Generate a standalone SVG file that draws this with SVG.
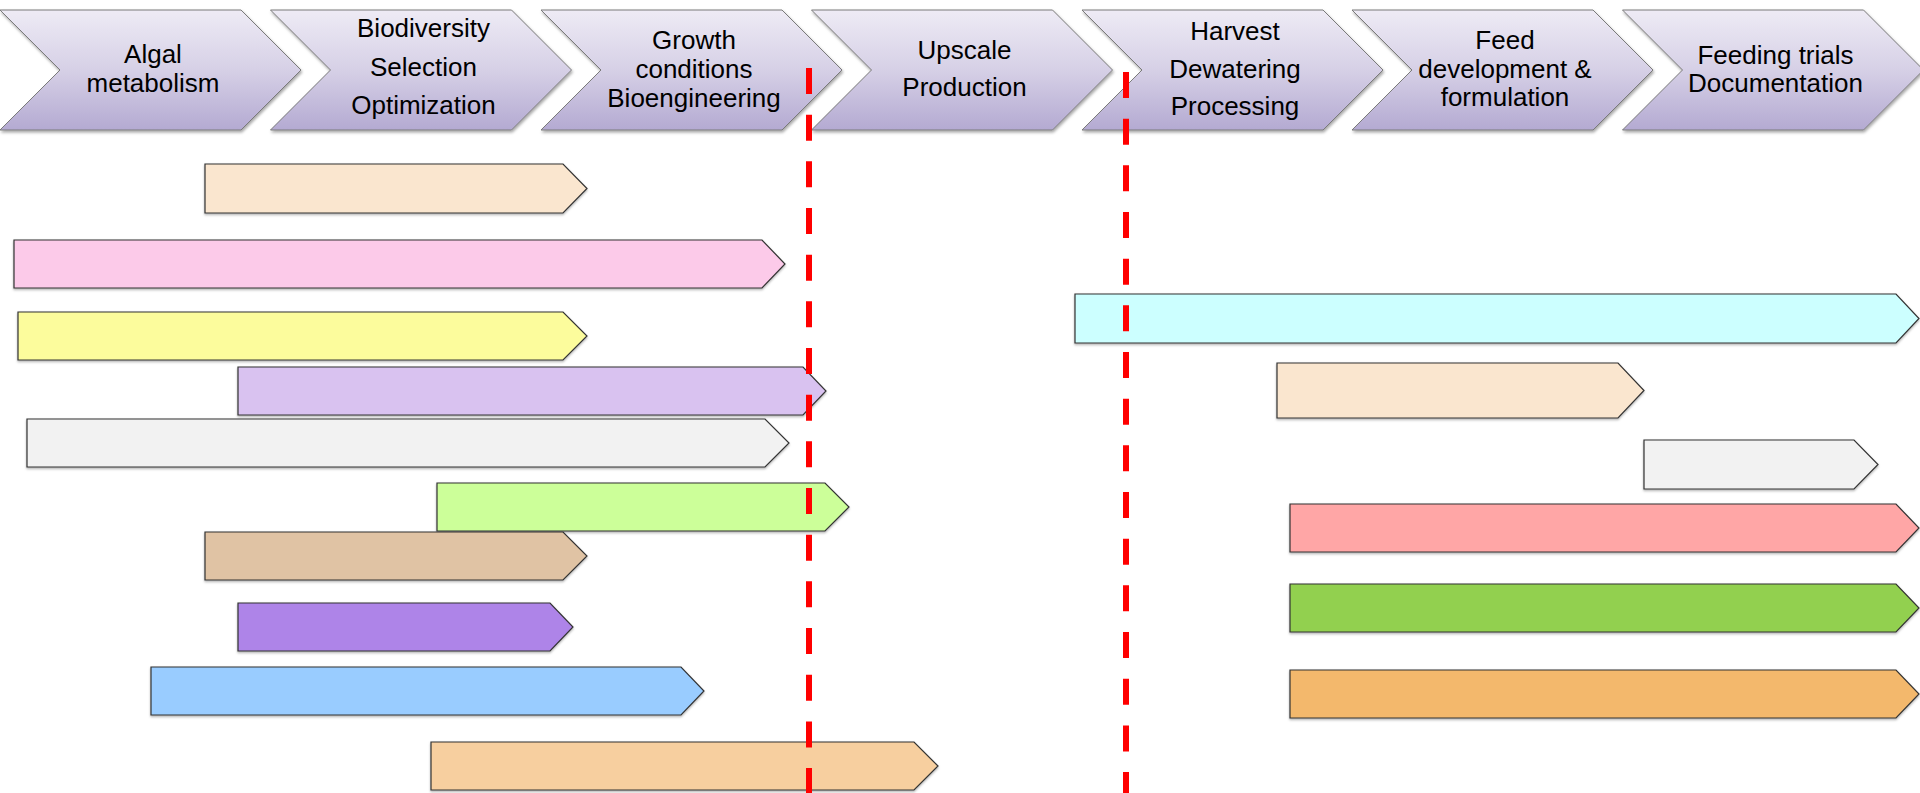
<svg xmlns="http://www.w3.org/2000/svg" width="1920" height="793" viewBox="0 0 1920 793">
  <defs>
    <linearGradient id="chevFill" x1="0" y1="0" x2="0" y2="1">
      <stop offset="0" stop-color="#EEEBF5"/>
      <stop offset="0.5" stop-color="#D6D0E6"/>
      <stop offset="1" stop-color="#B4AAD2"/>
    </linearGradient>
    <filter id="shadow" x="-5%" y="-10%" width="110%" height="130%">
      <feDropShadow dx="1" dy="2" stdDeviation="1.5" flood-color="#000" flood-opacity="0.35"/>
    </filter>
    <filter id="barShadow" x="-2%" y="-10%" width="104%" height="130%">
      <feDropShadow dx="0" dy="1.5" stdDeviation="0.8" flood-color="#000" flood-opacity="0.3"/>
    </filter>
  </defs>
  <style>
    .chev { fill: url(#chevFill); stroke: #7A7A7A; stroke-width: 1; filter: url(#shadow); }
    .lbl { font-family: "Liberation Sans", Arial, sans-serif; font-size: 26px; fill: #000; text-anchor: middle; }
    .bar { stroke: #333333; stroke-width: 1.2; filter: url(#barShadow); }
    .cut { stroke: #FF0000; stroke-width: 6; stroke-dasharray: 26 20.67; fill: none; }
  </style>
  <rect width="1920" height="793" fill="#FFFFFF"/>

  <!-- Stage chevrons -->
  <g id="stage-algal-metabolism" transform="translate(0,0)">
    <path class="chev" d="M0,10 H241 L301,70 L241,130 H0 L60,70 Z"/>
    <text class="lbl" x="153" y="63">Algal</text>
    <text class="lbl" x="153" y="92">metabolism</text>
  </g>
  <g id="stage-biodiversity" transform="translate(270.5,0)">
    <path class="chev" d="M0,10 H241 L301,70 L241,130 H0 L60,70 Z"/>
    <text class="lbl" x="153" y="37">Biodiversity</text>
    <text class="lbl" x="153" y="76">Selection</text>
    <text class="lbl" x="153" y="114">Optimization</text>
  </g>
  <g id="stage-growth" transform="translate(541,0)">
    <path class="chev" d="M0,10 H241 L301,70 L241,130 H0 L60,70 Z"/>
    <text class="lbl" x="153" y="49">Growth</text>
    <text class="lbl" x="153" y="78">conditions</text>
    <text class="lbl" x="153" y="107">Bioengineering</text>
  </g>
  <g id="stage-upscale" transform="translate(811.5,0)">
    <path class="chev" d="M0,10 H241 L301,70 L241,130 H0 L60,70 Z"/>
    <text class="lbl" x="153" y="59">Upscale</text>
    <text class="lbl" x="153" y="96">Production</text>
  </g>
  <g id="stage-harvest" transform="translate(1082,0)">
    <path class="chev" d="M0,10 H241 L301,70 L241,130 H0 L60,70 Z"/>
    <text class="lbl" x="153" y="40">Harvest</text>
    <text class="lbl" x="153" y="78">Dewatering</text>
    <text class="lbl" x="153" y="115">Processing</text>
  </g>
  <g id="stage-feed" transform="translate(1352,0)">
    <path class="chev" d="M0,10 H241 L301,70 L241,130 H0 L60,70 Z"/>
    <text class="lbl" x="153" y="49">Feed</text>
    <text class="lbl" x="153" y="78">development &amp;</text>
    <text class="lbl" x="153" y="106">formulation</text>
  </g>
  <g id="stage-feeding-trials" transform="translate(1622.5,0)">
    <path class="chev" d="M0,10 H241 L301,70 L241,130 H0 L60,70 Z"/>
    <text class="lbl" x="153" y="64">Feeding trials</text>
    <text class="lbl" x="153" y="92">Documentation</text>
  </g>

  <!-- Activity bars -->
  <g id="bar-a"><path class="bar" fill="#FAE6CF" d="M205,164 H563 L587,188.5 L563,213 H205 Z"/></g>
  <g id="bar-b"><path class="bar" fill="#FCCAE9" d="M14,240 H762 L785,264 L762,288 H14 Z"/></g>
  <g id="bar-c"><path class="bar" fill="#FCFC9C" d="M18,312 H563 L587,336 L563,360 H18 Z"/></g>
  <g id="bar-d"><path class="bar" fill="#D9C2F0" d="M238,367 H803 L826,391 L803,415 H238 Z"/></g>
  <g id="bar-e"><path class="bar" fill="#F2F2F2" d="M27,419 H765 L789,443 L765,467 H27 Z"/></g>
  <g id="bar-f"><path class="bar" fill="#CCFF99" d="M437,483 H825 L849,507 L825,531 H437 Z"/></g>
  <g id="bar-g"><path class="bar" fill="#E0C3A4" d="M205,532 H563 L587,556 L563,580 H205 Z"/></g>
  <g id="bar-h"><path class="bar" fill="#AE84E8" d="M238,603 H550 L573,627 L550,651 H238 Z"/></g>
  <g id="bar-i"><path class="bar" fill="#99CCFF" d="M151,667 H681 L704,691 L681,715 H151 Z"/></g>
  <g id="bar-j"><path class="bar" fill="#F7CF9F" d="M431,742 H914 L938,766 L914,790 H431 Z"/></g>
  <g id="bar-k"><path class="bar" fill="#CCFFFF" d="M1075,294 H1896 L1919,318.5 L1896,343 H1075 Z"/></g>
  <g id="bar-l"><path class="bar" fill="#FAE6CF" d="M1277,363 H1618 L1644,390.5 L1618,418 H1277 Z"/></g>
  <g id="bar-m"><path class="bar" fill="#F2F2F2" d="M1644,440 H1854 L1878,464.5 L1854,489 H1644 Z"/></g>
  <g id="bar-n"><path class="bar" fill="#FFA6A6" d="M1290,504 H1896 L1919,528 L1896,552 H1290 Z"/></g>
  <g id="bar-o"><path class="bar" fill="#92D050" d="M1290,584 H1896 L1919,608 L1896,632 H1290 Z"/></g>
  <g id="bar-p"><path class="bar" fill="#F3B86C" d="M1290,670 H1896 L1919,694 L1896,718 H1290 Z"/></g>

  <!-- Milestone dashed lines -->
  <g id="connectors">
    <line class="cut" x1="809" y1="68" x2="809" y2="793"/>
    <line class="cut" x1="1126" y1="72" x2="1126" y2="793"/>
  </g>
</svg>
